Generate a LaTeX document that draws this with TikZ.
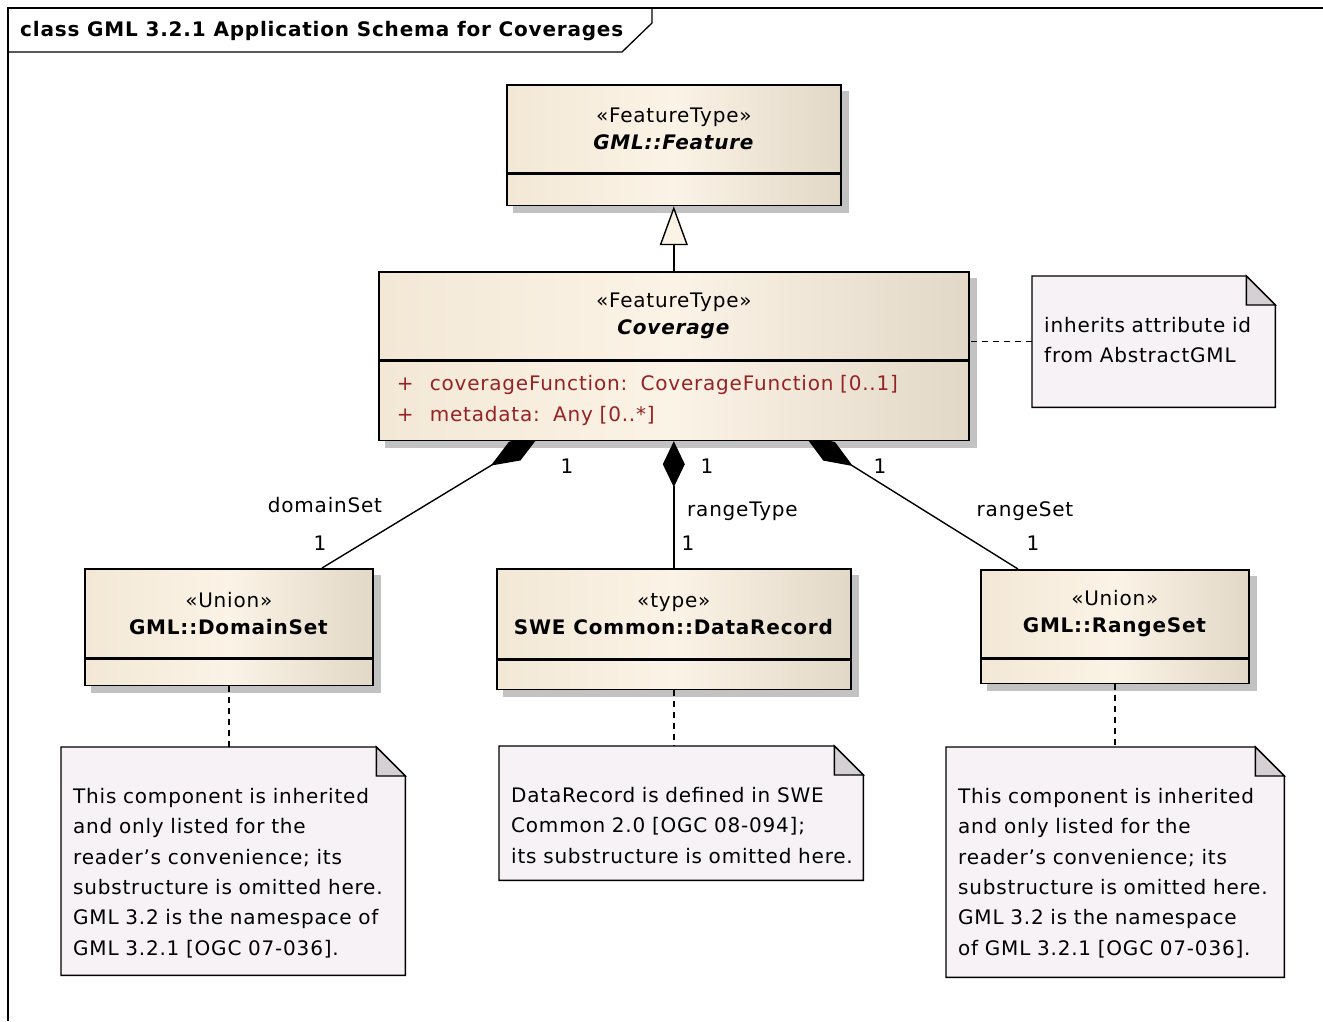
\documentclass[tikz,border=0pt]{standalone}
\usepackage{fontspec}
\setmainfont{DejaVu Sans}[LetterSpace=4]
\usetikzlibrary{arrows.meta,positioning}

\definecolor{boxleft}{RGB}{243,232,214}
\definecolor{boxmid}{RGB}{251,243,230}
\definecolor{boxright}{RGB}{226,216,199}
\definecolor{notefill}{RGB}{246,242,246}
\definecolor{foldfill}{RGB}{212,208,212}
\definecolor{attrred}{RGB}{150,35,35}

\pgfdeclarelayer{shadowlayer}
\pgfdeclarelayer{linklayer}
\pgfsetlayers{shadowlayer,linklayer,main}

\newcommand{\umlattr}[1]{\makebox[33pt][l]{+}#1}
\newcommand{\notefold}[1]{%
  \draw[notebox] (#1.north west) -- ([xshift=-29pt]#1.north east) -- ([yshift=-29pt]#1.north east) -- (#1.south east) -- (#1.south west) -- cycle;
  \draw[notebox, fill=foldfill] ([xshift=-29pt]#1.north east) -- ([xshift=-29pt,yshift=-29pt]#1.north east) -- ([yshift=-29pt]#1.north east) -- cycle;}

\tikzset{
  frameline/.style={draw=black, line width=1.3pt},
  classhead/.style={draw=black, line width=1.6pt, left color=boxleft, right color=boxright, middle color=boxmid, anchor=north west, inner sep=0pt, align=center, font=\fontsize{20}{27}\selectfont},
  classattr/.style={draw=black, line width=1.6pt, left color=boxleft, right color=boxright, middle color=boxmid, inner sep=0pt, align=left, font=\fontsize{20}{31}\selectfont, text=attrred},
  boxshadow/.style={fill=black!24},
  note/.style={anchor=north west, inner xsep=12pt, inner ysep=0pt, align=left, text height=56pt, font=\fontsize{20}{30.4}\selectfont},
  notebox/.style={draw=black, line width=1.4pt, fill=notefill, line join=miter},
  notelink/.style={draw=black, line width=1.4pt, dash pattern=on 6pt off 5pt},
  gen/.style={draw=black, line width=1.4pt, -{Triangle[length=39pt,width=28pt,fill=boxmid]}},
  compose/.style={draw=black, line width=1.4pt, {Diamond[length=#1,width=22pt]}-},
  compose/.default=46pt,
  rolelabel/.style={inner sep=0pt, font=\fontsize{20}{24}\selectfont}
}

\begin{document}
\begin{tikzpicture}[x=1pt,y=-1pt]
    \useasboundingbox (0,0) rectangle (1323,1021);
    \draw[frameline] (8,1021) -- (8,8) -- (1323,8);
    \draw[frameline] (8,52) -- (622,52) -- (652,23) -- (652,8);
    \node[anchor=west, inner sep=0pt, font=\fontsize{20}{24}\selectfont\bfseries] (title) at (20,31) {class GML 3.2.1 Application Schema for Coverages};

    \node[classhead, minimum width=334pt, minimum height=88pt] (feat) at (506,84) {«FeatureType»\\\textbf{\textit{GML::Feature}}};
    \node[classattr, minimum width=334pt, minimum height=31pt, below=0pt of feat] (feat-attr) {};
    \node[classhead, minimum width=590pt, minimum height=88pt] (cov) at (378,271) {«FeatureType»\\\textbf{\textit{Coverage}}};
    \node[classattr, minimum width=590pt, minimum height=79pt, inner xsep=18pt, text width=554pt, below=0pt of cov] (cov-attr) {\umlattr{coverageFunction:\ \ CoverageFunction [0..1]}\\\umlattr{metadata:\ \ Any [0..*]}};
    \node[classhead, minimum width=288pt, minimum height=89pt] (dom) at (84,568) {«Union»\\\textbf{GML::DomainSet}};
    \node[classattr, minimum width=288pt, minimum height=26pt, below=0pt of dom] (dom-attr) {};
    \node[classhead, minimum width=354pt, minimum height=90pt] (rec) at (496,568) {«type»\\\textbf{SWE Common::DataRecord}};
    \node[classattr, minimum width=354pt, minimum height=29pt, below=0pt of rec] (rec-attr) {};
    \node[classhead, minimum width=268pt, minimum height=88pt] (rng) at (980,569) {«Union»\\\textbf{GML::RangeSet}};
    \node[classattr, minimum width=268pt, minimum height=24pt, below=0pt of rng] (rng-attr) {};

    \node[note, text width=219pt, text depth=75pt] (noteid) at (1032,276) {inherits attribute id\\from AbstractGML};
    \node[note, text width=320pt, text depth=172pt] (notedom) at (61,747) {\mbox{This component is inherited}\\\mbox{and only listed for the}\\\mbox{reader's convenience; its}\\\mbox{substructure is omitted here.}\\\mbox{GML 3.2 is the namespace of}\\\mbox{GML 3.2.1 [OGC 07-036].}};
    \node[note, text width=340pt, text depth=78pt] (noterec) at (499,746) {\mbox{DataRecord is defined in SWE}\\\mbox{Common 2.0 [OGC 08-094];}\\\mbox{its substructure is omitted here.}};
    \node[note, text width=314pt, text depth=174pt] (noterng) at (946,747) {\mbox{This component is inherited}\\\mbox{and only listed for the}\\\mbox{reader's convenience; its}\\\mbox{substructure is omitted here.}\\\mbox{GML 3.2 is the namespace}\\\mbox{of GML 3.2.1 [OGC 07-036].}};

    \node[rolelabel] (covdommult) at (567,466) {1};
    \node[rolelabel] (covrecmult) at (707,466) {1};
    \node[rolelabel] (covrngmult) at (880,466) {1};
    \node[rolelabel] (domrole) at (325,505) {domainSet};
    \node[rolelabel] (dommult) at (320,543) {1};
    \node[rolelabel, anchor=west] (recrole) at (687,511) {rangeType};
    \node[rolelabel] (recmult) at (688,543) {1};
    \node[rolelabel] (rngrole) at (1025,511) {rangeSet};
    \node[rolelabel] (rngmult) at (1033,543) {1};

    \begin{pgfonlayer}{shadowlayer}
        \foreach \c in {feat,cov,dom,rec,rng}
            \fill[boxshadow] ([shift={(7pt,-7pt)}]\c.north west) rectangle ([shift={(7pt,-7pt)}]\c-attr.south east);
    \end{pgfonlayer}

    \begin{pgfonlayer}{linklayer}
        \foreach \n in {noteid,notedom,noterec,noterng}
            {\notefold{\n}}
        \draw[gen] (cov.north) -- (feat-attr.south);
        \draw[compose] (cov-attr.south) -- (rec.north);
        \draw[compose=56pt, shorten <=-9pt] ([xshift=153pt]cov-attr.south west) -- ([xshift=238pt]dom.north west);
        \draw[compose=56pt, shorten <=-9pt] ([xshift=435pt]cov-attr.south west) -- ([xshift=38pt]rng.north west);
        \draw[notelink] (noteid.west) -- (noteid.west -| cov.east);
        \draw[notelink] (dom-attr.south) -- (dom-attr.south |- notedom.north);
        \draw[notelink] (rec-attr.south) -- (rec-attr.south |- noterec.north);
        \draw[notelink] (rng-attr.south) -- (rng-attr.south |- noterng.north);
    \end{pgfonlayer}
\end{tikzpicture}
\end{document}
